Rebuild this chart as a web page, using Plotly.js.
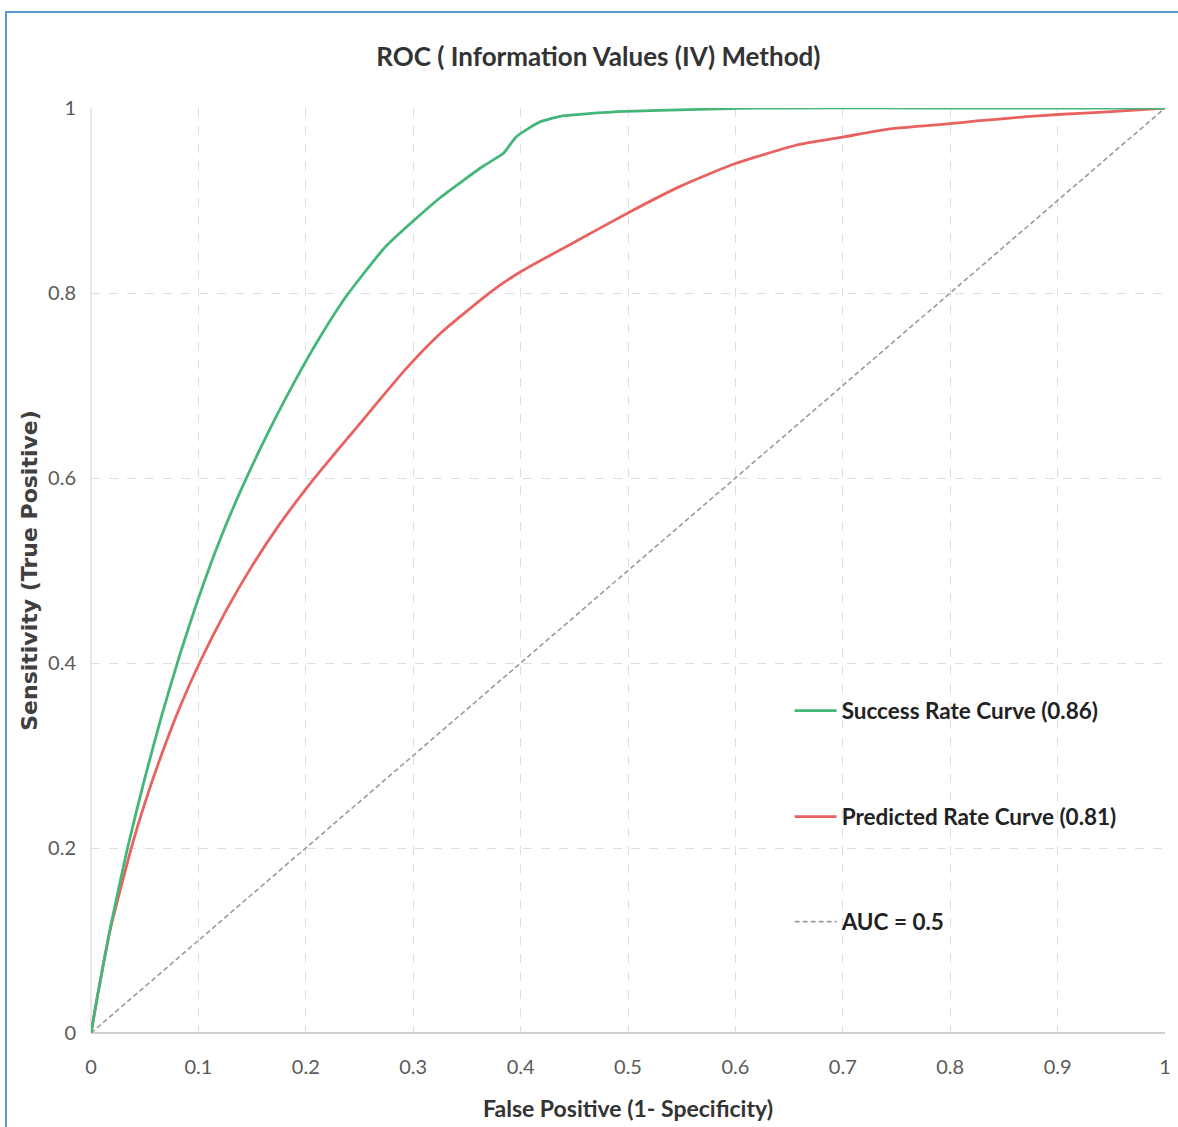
<!DOCTYPE html>
<html>
<head>
<meta charset="utf-8">
<script src="https://cdn.plot.ly/plotly-3.0.1.min.js"></script>
<style>html,body{margin:0;padding:0;background:#fff;}#chart{width:1178px;height:1127px;}</style>
</head>
<body>
<div id="chart"></div>
<script>
// Success Rate Curve (green)
const successX = [0, 0.0065, 0.018, 0.034, 0.05, 0.066, 0.083, 0.10, 0.12, 0.14, 0.167, 0.198, 0.213, 0.238, 0.275, 0.325, 0.365, 0.384, 0.396, 0.418, 0.437, 0.455, 0.49, 0.586, 0.62, 0.8, 1.0];
const successY = [0, 0.043, 0.114, 0.2, 0.275, 0.344, 0.41, 0.47, 0.533, 0.588, 0.654, 0.722, 0.752, 0.797, 0.851, 0.903, 0.937, 0.951, 0.969, 0.985, 0.991, 0.993, 0.996, 0.999, 1.0, 1.0, 1.0];
// Predicted Rate Curve (red)
const predictedX = [0, 0.0065, 0.018, 0.038, 0.05, 0.066, 0.083, 0.101, 0.125, 0.15, 0.175, 0.198, 0.213, 0.244, 0.294, 0.325, 0.372, 0.4, 0.455, 0.499, 0.548, 0.576, 0.6, 0.657, 0.7, 0.744, 0.8, 0.825, 0.871, 0.9, 0.95, 1.0];
const predictedY = [0, 0.043, 0.112, 0.202, 0.248, 0.302, 0.353, 0.40, 0.455, 0.505, 0.549, 0.585, 0.607, 0.65, 0.719, 0.756, 0.801, 0.823, 0.858, 0.886, 0.915, 0.929, 0.94, 0.96, 0.9686, 0.9774, 0.983, 0.986, 0.9906, 0.993, 0.996, 1.0];
// Reference diagonal
const diagX = [0, 1];
const diagY = [0, 1];
const seriesNames = ["Success Rate Curve (0.86)", "Predicted Rate Curve (0.81)", "AUC = 0.5"];
const xTicks = [0, 0.1, 0.2, 0.3, 0.4, 0.5, 0.6, 0.7, 0.8, 0.9, 1];
const xTickText = ["0", "0.1", "0.2", "0.3", "0.4", "0.5", "0.6", "0.7", "0.8", "0.9", "1"];
const yTicks = [0, 0.2, 0.4, 0.6, 0.8, 1];
const yTickText = ["0", "0.2", "0.4", "0.6", "0.8", "1"];

const calib = 'Lato, "Liberation Sans", sans-serif';

const traces = [
  {x: diagX, y: diagY, name: seriesNames[2], mode: 'lines', legend: 'legend3',
   line: {color: '#9a9a9a', width: 1.6, dash: '5px,3px'}},
  {x: predictedX, y: predictedY, name: seriesNames[1], mode: 'lines', legend: 'legend2',
   line: {color: '#e8625f', width: 2.8, shape: 'spline', smoothing: 0.5}},
  {x: successX, y: successY, name: seriesNames[0], mode: 'lines', legend: 'legend',
   line: {color: '#45b67a', width: 2.8, shape: 'spline', smoothing: 0.5}}
];

const legFont = {family: calib, size: 22.5, color: '#222', weight: 'bold'};
function leg(y){
  return {x: 0.6505, y: y, xanchor: 'left', yanchor: 'middle', xref: 'paper', yref: 'paper',
          bgcolor: 'rgba(0,0,0,0)', borderwidth: 0, font: legFont, itemwidth: 42};
}

const layout = {
  width: 1178, height: 1127,
  margin: {l: 91, r: 13, t: 108, b: 94},
  paper_bgcolor: '#ffffff', plot_bgcolor: '#ffffff',
  showlegend: true,
  title: {text: 'ROC ( Information Values (IV) Method)', x: 0.508, xref: 'container', xanchor: 'center',
          y: 1 - 57/1127, yref: 'container', yanchor: 'middle',
          font: {family: calib, size: 26, color: '#333', weight: 'bold'}},
  xaxis: {range: [0, 1], tickvals: xTicks, ticktext: xTickText, showgrid: true,
          gridcolor: '#dedede', griddash: 'dash', gridwidth: 1, zeroline: false,
          showline: false, ticks: '', ticklabelstandoff: 20,
          tickfont: {family: calib, size: 20, color: '#5a5a5a'},
          title: {text: 'False Positive (1- Specificity)', standoff: 23,
                  font: {family: calib, size: 23, color: '#333', weight: 'bold'}}},
  yaxis: {range: [0, 1], tickvals: yTicks, ticktext: yTickText, showgrid: true,
          gridcolor: '#dedede', griddash: 'dash', gridwidth: 1, zeroline: false,
          showline: false, ticks: '', ticklabelstandoff: 14,
          tickfont: {family: calib, size: 20, color: '#5a5a5a'},
          title: {text: 'Sensitivity (True Positive)', standoff: 4,
                  font: {family: '"DejaVu Sans", sans-serif', size: 22, color: '#404040', weight: 'bold'}}},
  legend: leg(1 - (711-108)/925),
  legend2: leg(1 - (817-108)/925),
  legend3: leg(1 - (922-108)/925),
  shapes: [
    // legend box background hiding gridlines
    {type: 'rect', xref: 'paper', yref: 'paper', x0: (768-91)/1074, x1: (1160-91)/1074,
     y0: (1033-975)/925, y1: (1033-660)/925, fillcolor: '#ffffff', line: {width: 0}, layer: 'between'},
    // axis lines
    {type: 'line', xref: 'paper', yref: 'paper', x0: 0, x1: 1, y0: 0, y1: 0,
     line: {color: '#d0d0d0', width: 2}, layer: 'between'},
    {type: 'line', xref: 'paper', yref: 'paper', x0: 0, x1: 0, y0: 0, y1: 1,
     line: {color: '#e2e2e2', width: 1.5}, layer: 'between'},
    // outer blue frame (top and left)
    {type: 'line', xref: 'paper', yref: 'paper', x0: (5-91)/1074, x1: (1180-91)/1074,
     y0: (1033-12)/925, y1: (1033-12)/925, line: {color: '#5b9bd5', width: 2}},
    {type: 'line', xref: 'paper', yref: 'paper', x0: (6-91)/1074, x1: (6-91)/1074,
     y0: (1033-12)/925, y1: (1033-1130)/925, line: {color: '#5b9bd5', width: 2}}
  ]
};

Plotly.newPlot('chart', traces, layout, {displayModeBar: false, staticPlot: true});
</script>
</body>
</html>
